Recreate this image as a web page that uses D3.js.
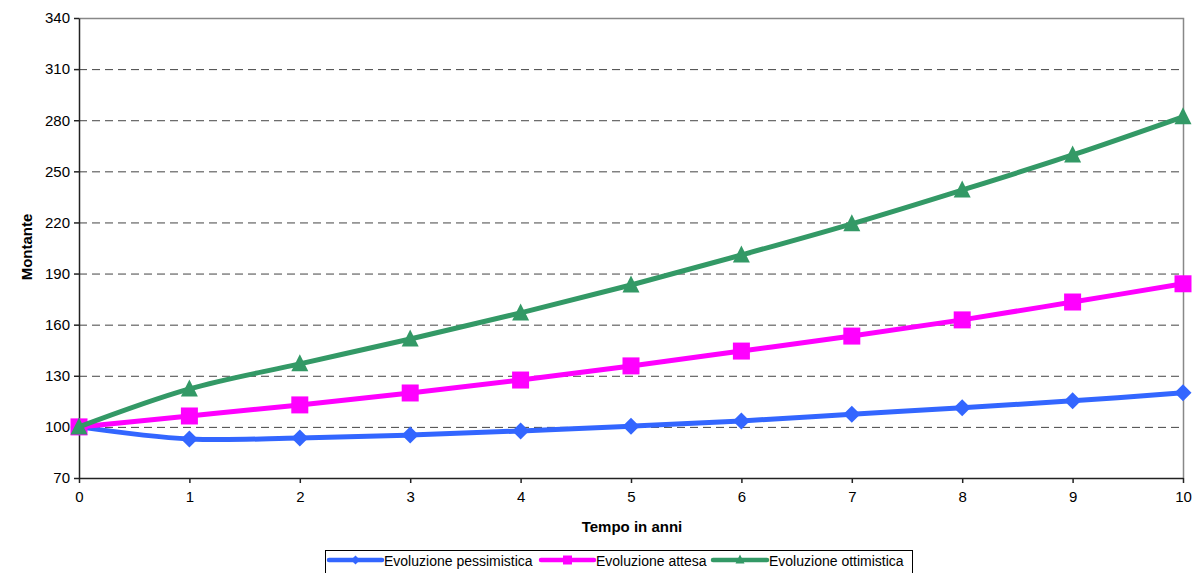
<!DOCTYPE html>
<html><head><meta charset="utf-8">
<script src="https://cdn.jsdelivr.net/npm/d3@7"></script>
<style>body{margin:0;background:#fff}svg{display:block}text{font-family:"Liberation Sans",Arial,sans-serif}</style>
</head><body><svg id="c" width="1194" height="573"></svg>
<script>
const years = [0,1,2,3,4,5,6,7,8,9,10];
const pessimistica = [100,92.9,93.5,95.2,97.6,100.4,103.5,107.4,111.2,115.3,120];
const attesa = [100,106.4,112.9,119.9,127.5,135.8,144.5,153.3,162.8,173.3,184];
const ottimistica = [100,122.3,137,151.6,166.9,183.3,200.9,219.2,239,259.6,282];
const yTicks = [70,100,130,160,190,220,250,280,310,340];
const seriesNames = ["Evoluzione pessimistica","Evoluzione attesa","Evoluzione ottimistica"];
const colors = ["#3366FF","#FF00FF","#339966"];

// Excel-like marker shapes (size = full width in px)
const diamond = {draw(c,s){const r=s/2;c.moveTo(0,-r);c.lineTo(r,0);c.lineTo(0,r);c.lineTo(-r,0);c.closePath();}};
const square = {draw(c,s){const r=s/2;c.moveTo(-r,-r);c.lineTo(r,-r);c.lineTo(r,r);c.lineTo(-r,r);c.closePath();}};
const triangle = {draw(c,s){const r=s/2;c.moveTo(0,-r-1);c.lineTo(r,r-1);c.lineTo(-r,r-1);c.closePath();}};
const symbolsT = [diamond, square, triangle];
const sizes=[17,17,17];

const svg = d3.select("#c");
const L=79,R=1183,T=18,B=478;
const x = d3.scaleLinear().domain([0,10]).range([L,R]);
const y = d3.scaleLinear().domain([70,340]).range([B,T]);

// gridlines
svg.append("g").selectAll("line").data(yTicks.filter(v=>v>70&&v<340)).join("line")
  .attr("x1",L).attr("x2",R).attr("y1",d=>y(d)+0.5).attr("y2",d=>y(d)+0.5)
  .attr("stroke","#444").attr("stroke-width",1).attr("stroke-dasharray","8,5");
// top/right border
svg.append("path").attr("d",`M${L},${T+0.5}H${R+0.5}V${B}`).attr("fill","none").attr("stroke","#888").attr("stroke-width",1.5);

const yAxis = svg.append("g").attr("transform",`translate(${L},0)`).call(d3.axisLeft(y).tickValues(yTicks).tickSize(5).tickSizeOuter(0).tickPadding(4));
const xAxis = svg.append("g").attr("transform",`translate(0,${B})`).call(d3.axisBottom(x).tickValues(years).tickSize(5).tickSizeOuter(0).tickPadding(8));
[yAxis,xAxis].forEach(a=>{a.attr("font-size",15).attr("font-family","Liberation Sans, Arial, sans-serif");a.selectAll("path,line").attr("stroke","#222").attr("stroke-width",1.5);a.selectAll("text").attr("fill","#000");});

svg.append("text").attr("x",632).attr("y",532).attr("text-anchor","middle").attr("font-size",15).attr("font-weight","bold").text("Tempo in anni");
svg.append("text").attr("transform","translate(32,247) rotate(-90)").attr("text-anchor","middle").attr("font-size",15).attr("font-weight","bold").text("Montante");

const data=[pessimistica,attesa,ottimistica];
const line = d3.line().x((d,i)=>x(years[i])).y(d=>y(d)).curve(d3.curveCatmullRom.alpha(0.5));
data.forEach((s,k)=>{
  svg.append("path").attr("d",line(s)).attr("fill","none").attr("stroke",colors[k]).attr("stroke-width",5).attr("stroke-linejoin","round");
  svg.append("g").selectAll("path").data(s).join("path")
    .attr("transform",(d,i)=>`translate(${x(years[i])},${y(d)})`)
    .attr("d",d3.symbol(symbolsT[k],sizes[k])).attr("fill",colors[k]);
});

// legend
const lg = svg.append("g");
lg.append("rect").attr("x",325.5).attr("y",550.5).attr("width",587).attr("height",30).attr("fill","#fff").attr("stroke","#000").attr("stroke-width",1);
const lx=[329,541,713], tw=[53,53,54];
seriesNames.forEach((n,k)=>{
  lg.append("line").attr("x1",lx[k]).attr("x2",lx[k]+tw[k]).attr("y1",560).attr("y2",560).attr("stroke",colors[k]).attr("stroke-width",4.5).attr("stroke-linecap","round");
  lg.append("path").attr("transform",`translate(${lx[k]+tw[k]/2},560)`).attr("d",d3.symbol(symbolsT[k],9)).attr("fill",colors[k]);
  lg.append("text").attr("x",lx[k]+tw[k]+2).attr("y",566).attr("font-size",14).text(n);
});
</script></body></html>
